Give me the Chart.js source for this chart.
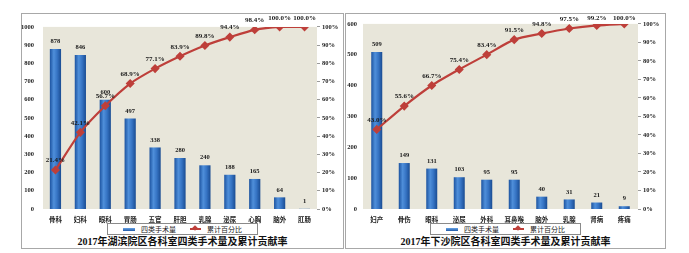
<!DOCTYPE html>
<html lang="zh">
<head>
  <meta charset="UTF-8">
  <title>四类手术量及累计贡献率</title>
  <script src="https://cdn.jsdelivr.net/npm/chart.js@4.4.0/dist/chart.umd.min.js"></script>
  <style>
    body { margin: 0; background: #fff; width: 689px; height: 253px; position: relative; overflow: hidden;
           font-family: "Liberation Serif", "Noto Sans CJK SC", serif; }
    .panel { position: absolute; top: 13px; height: 236px; border: 1px solid #a8a8a8; box-sizing: border-box; }
    canvas { position: absolute; top: 14px; }
    .legend { position: absolute; top: 223px; width: 151px; height: 12px; border: 1px solid #8a8a8a; box-sizing: border-box;
              display: flex; align-items: center; justify-content: center; gap: 4px; font-size: 7px; color: #222; background: #fff; }
    .sw-bar { display: inline-block; width: 12px; height: 3px; background: linear-gradient(#6aa4e6, #1f5aa8); margin-right: 2px; }
    .sw-line { display: inline-block; width: 11px; height: 2px; background: #be3f3a; margin-right: 2px; position: relative; margin-left: 10px; }
    .sw-line::after { content: ""; position: absolute; left: 3px; top: -2px; width: 4px; height: 4px; background: #be3f3a; transform: rotate(45deg); }
    .title { position: absolute; top: 236px; height: 12px; line-height: 12px; text-align: center; font-size: 10px; font-weight: bold; color: #111; }
  </style>
</head>
<body>
  <div class="panel" style="left:21px;width:323px"></div>
  <div class="panel" style="left:345px;width:321px"></div>

  <canvas id="leftChart" width="322" height="210" style="left:21px"></canvas>
  <canvas id="rightChart" width="320" height="210" style="left:345px"></canvas>

  <div class="legend" style="left:107px"><span class="sw-bar"></span>四类手术量<span class="sw-line"></span>累计百分比</div>
  <div class="legend" style="left:430px"><span class="sw-bar"></span>四类手术量<span class="sw-line"></span>累计百分比</div>

  <div class="title" style="left:21px;width:323px">2017年湖滨院区各科室四类手术量及累计贡献率</div>
  <div class="title" style="left:345px;width:321px">2017年下沙院区各科室四类手术量及累计贡献率</div>

  <script>
    // 湖滨院区
    const leftCategories = ['骨科', '妇科', '眼科', '胃肠', '五官', '肝胆', '乳腺', '泌尿', '心胸', '脑外', '肛肠'];
    const leftCounts = [878, 846, 600, 497, 338, 280, 240, 188, 165, 64, 1];
    const leftCumulative = [21.4, 42.1, 56.7, 68.9, 77.1, 83.9, 89.8, 94.4, 98.4, 100.0, 100.0];
    const leftCountMax = 1000;

    // 下沙院区
    const rightCategories = ['妇产', '骨伤', '眼科', '泌尿', '外科', '耳鼻喉', '脑外', '乳腺', '肾病', '疼痛'];
    const rightCounts = [509, 149, 131, 103, 95, 95, 40, 31, 21, 9];
    const rightCumulative = [43.0, 55.6, 66.7, 75.4, 83.4, 91.5, 94.8, 97.5, 99.2, 100.0];
    const rightCountMax = 600;

    const LINE_RED = '#be3f3a';
    const FONT_FAMILY = '"Liberation Serif", "Noto Sans CJK SC", serif';

    // beige plot background
    const plotBg = {
      id: 'plotBg',
      beforeDraw(chart) {
        const a = chart.chartArea, c = chart.ctx;
        c.save();
        c.fillStyle = '#e8e6da';
        c.fillRect(a.left, a.top, a.right - a.left, a.bottom - a.top);
        c.restore();
      }
    };

    // value labels above bars and percentage labels above points
    const valueLabels = {
      id: 'valueLabels',
      afterDatasetsDraw(chart) {
        const c = chart.ctx;
        c.save();
        c.fillStyle = '#1a1a1a';
        c.textAlign = 'center';
        c.textBaseline = 'middle';
        const bars = chart.getDatasetMeta(0);
        c.font = 'bold 6.5px ' + FONT_FAMILY;
        bars.data.forEach((el, i) => {
          c.fillText(chart.data.datasets[0].data[i], el.x, el.y - 7.5);
        });
        const line = chart.getDatasetMeta(1);
        c.font = 'bold 7px ' + FONT_FAMILY;
        line.data.forEach((el, i) => {
          const v = chart.data.datasets[1].data[i];
          const y = Math.max(el.y - 9.5, 4);
          c.fillText(v.toFixed(1) + '%', el.x, y);
        });
        c.restore();
      }
    };

    function barGradient(ctx, barPct, n) {
      const chart = ctx.chart;
      const xs = chart.scales.x;
      if (!xs || ctx.dataIndex === undefined || !chart.chartArea) return '#2f6fbf';
      const cx = xs.getPixelForValue(ctx.dataIndex);
      const w = (xs.width / n) * barPct;
      const g = chart.ctx.createLinearGradient(cx - w / 2, 0, cx + w / 2, 0);
      g.addColorStop(0, '#1c53a0');
      g.addColorStop(0.35, '#4f8fda');
      g.addColorStop(0.65, '#3674c4');
      g.addColorStop(1, '#1a4c92');
      return g;
    }

    function makeChart(id, categories, counts, cumulative, countMax, leftW, rightW, yPad, barPct) {
      const tickFont = { family: FONT_FAMILY, size: 6.5, weight: 'bold' };
      return new Chart(document.getElementById(id), {
        data: {
          labels: categories,
          datasets: [
            {
              type: 'bar',
              label: '四类手术量',
              data: counts,
              yAxisID: 'y',
              order: 1,
              barPercentage: barPct,
              categoryPercentage: 1,
              backgroundColor: (ctx) => barGradient(ctx, barPct, categories.length),
              borderWidth: 0
            },
            {
              type: 'line',
              label: '累计百分比',
              data: cumulative,
              yAxisID: 'y1',
              order: 0,
              borderColor: LINE_RED,
              backgroundColor: LINE_RED,
              borderWidth: 2.2,
              tension: 0.25,
              pointStyle: 'rectRot',
              pointRadius: 3,
              pointBackgroundColor: LINE_RED,
              pointBorderColor: LINE_RED
            }
          ]
        },
        options: {
          responsive: false,
          animation: false,
          layout: { padding: { top: 9, bottom: 0, left: 0, right: 0 } },
          plugins: { legend: { display: false }, tooltip: { enabled: false } },
          scales: {
            x: {
              grid: { display: false, drawTicks: false },
              border: { display: false },
              ticks: { font: { family: FONT_FAMILY, size: 6.5, weight: 'bold' }, color: '#222', padding: 7, maxRotation: 0, autoSkip: false },
              afterFit: (s) => { s.height = 15; }
            },
            y: {
              position: 'left',
              min: 0,
              max: countMax,
              grid: { display: false, drawTicks: false },
              border: { display: false },
              ticks: { stepSize: 100, font: tickFont, color: '#222', padding: yPad, callback: (v) => String(v) },
              afterFit: (s) => { s.width = leftW; }
            },
            y1: {
              position: 'right',
              min: 0,
              max: 100,
              grid: { drawOnChartArea: false, tickLength: 3, color: '#9a9a9a' },
              border: { display: false },
              ticks: { stepSize: 10, font: tickFont, color: '#222', padding: 2, callback: (v) => v + '%' },
              afterFit: (s) => { s.width = rightW; }
            }
          }
        },
        plugins: [plotBg, valueLabels]
      });
    }

    makeChart('leftChart', leftCategories, leftCounts, leftCumulative, leftCountMax, 22, 26, 9, 0.45);
    makeChart('rightChart', rightCategories, rightCounts, rightCumulative, rightCountMax, 18, 27, 6, 0.4);
  </script>
</body>
</html>
